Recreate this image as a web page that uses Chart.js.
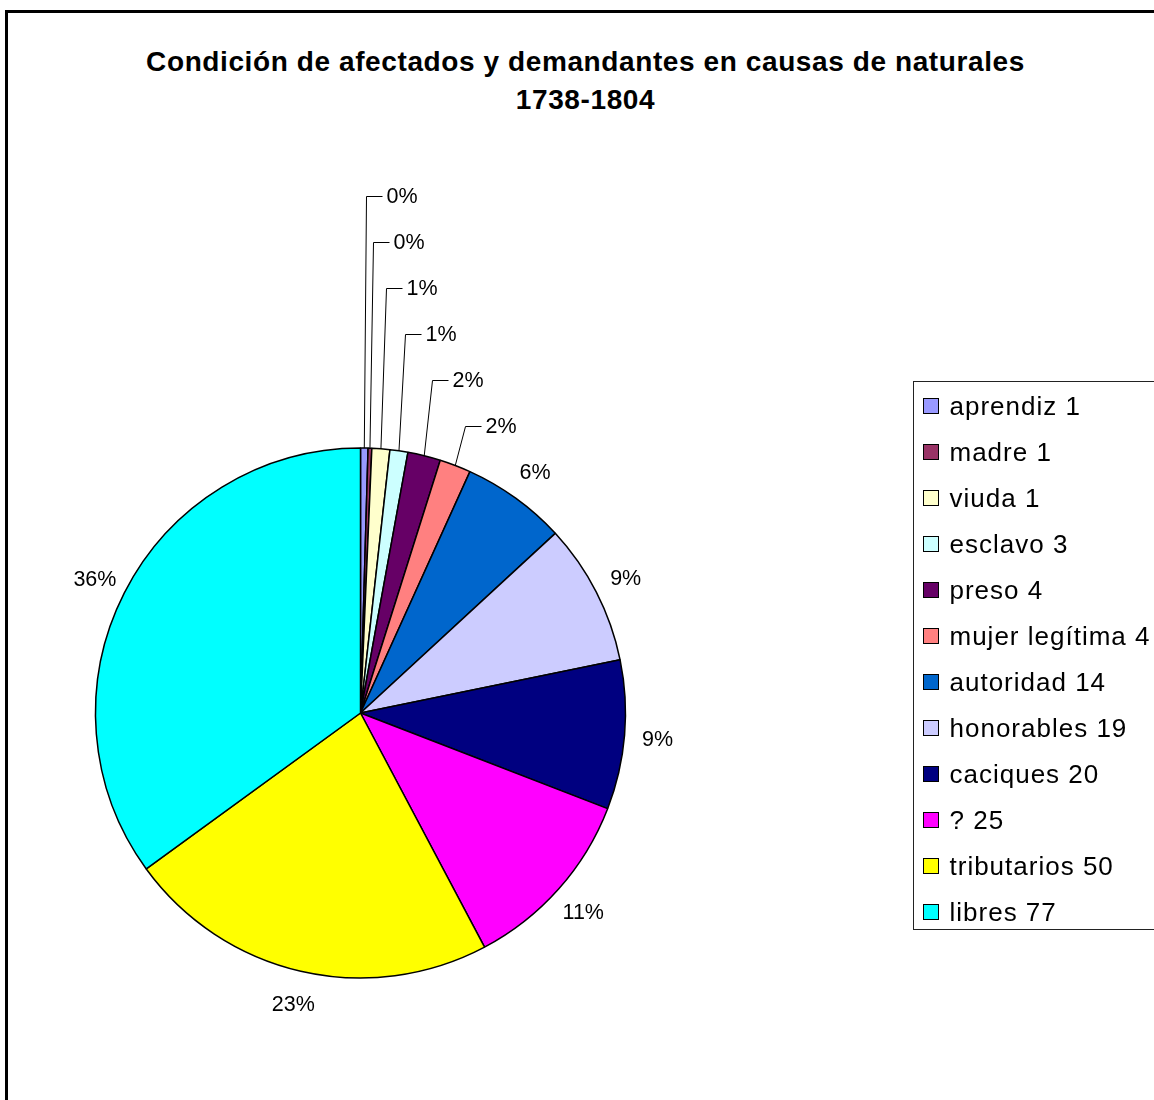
<!DOCTYPE html>
<html lang="es">
<head>
<meta charset="utf-8">
<title>Condición de afectados y demandantes</title>
<script src="https://cdn.jsdelivr.net/npm/chart.js@4.4.1/dist/chart.umd.min.js"></script>
<style>
  html, body { margin: 0; padding: 0; background: #fff; overflow: hidden; }
  body { width: 1154px; height: 1100px; position: relative; font-family: "Liberation Sans", Arial, sans-serif; color: #000; }
  #marco { position: absolute; left: 5px; top: 10px; width: 1300px; height: 1300px; border: 3px solid #000; }
  #caja { position: absolute; left: 8px; top: 13px; width: 1155px; height: 1087px; }
  #titulo { position: absolute; left: 0; top: 43px; width: 1171px; text-align: center; font-weight: bold; font-size: 28px; line-height: 38px; letter-spacing: 0.6px; }
  #leyenda { position: absolute; left: 913px; top: 381px; width: 300px; height: 546px; border: 1.5px solid #222; padding-top: 1px; }
  .item { height: 46px; display: flex; align-items: center; font-size: 26px; letter-spacing: 1px; white-space: nowrap; }
  .item .cuadro { width: 14px; height: 14px; border: 1.5px solid #000; margin-left: 8.5px; margin-right: 11px; flex: none; }
</style>
</head>
<body>
<div id="marco"></div>
<div id="titulo">Condición de afectados y demandantes en causas de naturales<br>1738-1804</div>
<div id="caja"><canvas id="grafico"></canvas></div>
<div id="leyenda"></div>

<script>
// categorías (como aparecen en la leyenda) y valores de cada porción
const categorias = ['aprendiz 1', 'madre 1', 'viuda 1', 'esclavo 3', 'preso 4', 'mujer legítima 4',
                    'autoridad 14', 'honorables 19', 'caciques 20', '? 25', 'tributarios 50', 'libres 77'];
const valores = [1, 0.5, 2.4, 2.4, 4.4, 4.2, 14, 19, 20, 25, 50, 77];
const colores = ['#9999FF', '#993366', '#FFFFCC', '#CCFFFF', '#660066', '#FF8080',
                 '#0066CC', '#CCCCFF', '#000080', '#FF00FF', '#FFFF00', '#00FFFF'];

// porcentajes redondeados; la diferencia para llegar a 100 va a la porción mayor
function porcentajes(vals) {
    const total = vals.reduce((a, b) => a + b, 0);
    const pct = vals.map(v => Math.round(v / total * 100));
    const diff = 100 - pct.reduce((a, b) => a + b, 0);
    pct[vals.indexOf(Math.max(...vals))] += diff;
    return pct;
}

// etiquetas de porcentaje fuera del círculo; las porciones chicas van apiladas con líneas guía
const etiquetasPct = {
    id: 'etiquetasPct',
    afterDatasetsDraw(chart) {
        const ctx = chart.ctx;
        const meta = chart.getDatasetMeta(0);
        const vals = chart.data.datasets[0].data;
        const total = vals.reduce((a, b) => a + b, 0);
        const pct = porcentajes(vals);
        const chicas = vals.map((v, i) => i).filter(i => vals[i] / total < 0.025);

        ctx.save();
        ctx.font = '21.5px "Liberation Sans", Arial, sans-serif';
        ctx.fillStyle = '#000';
        ctx.strokeStyle = '#000';
        ctx.lineWidth = 1;
        ctx.textBaseline = 'middle';

        meta.data.forEach((arc, i) => {
            const p = arc.getProps(['x', 'y', 'startAngle', 'endAngle', 'outerRadius'], true);
            const a = (p.startAngle + p.endAngle) / 2;
            const txt = pct[i] + '%';
            const k = chicas.indexOf(i);
            if (k >= 0) {
                const ex = p.x + Math.cos(a) * p.outerRadius;
                const ey = p.y + Math.sin(a) * p.outerRadius;
                const ly = Math.round(p.y - p.outerRadius - 22 - (chicas.length - 1 - k) * 46) + 0.5;
                const lx = Math.round(ex + 2 + k * 1.5) + 0.5;
                ctx.beginPath();
                ctx.moveTo(ex, ey);
                ctx.lineTo(lx, ly);
                ctx.lineTo(lx + 16, ly);
                ctx.stroke();
                ctx.textAlign = 'left';
                ctx.fillText(txt, lx + 20, ly + 1);
            } else {
                const rr = p.outerRadius + 33;
                ctx.textAlign = 'center';
                ctx.fillText(txt, p.x + Math.cos(a) * rr, p.y + Math.sin(a) * rr + 2);
            }
        });
        ctx.restore();
    }
};

new Chart(document.getElementById('grafico'), {
    type: 'pie',
    data: {
        labels: categorias,
        datasets: [{
            data: valores,
            backgroundColor: colores,
            borderColor: '#000',
            borderWidth: 1.5,
            radius: 265
        }]
    },
    options: {
        responsive: true,
        maintainAspectRatio: false,
        animation: false,
        layout: { padding: { left: 87.5, right: 537.5, top: 435, bottom: 122 } },
        plugins: {
            legend: { display: false },
            tooltip: { enabled: false }
        }
    },
    plugins: [etiquetasPct]
});

// leyenda con los mismos colores
const leyenda = document.getElementById('leyenda');
categorias.forEach((c, i) => {
    const fila = document.createElement('div');
    fila.className = 'item';
    const cuadro = document.createElement('span');
    cuadro.className = 'cuadro';
    cuadro.style.background = colores[i];
    fila.appendChild(cuadro);
    fila.appendChild(document.createTextNode(c));
    leyenda.appendChild(fila);
});
</script>
</body>
</html>
